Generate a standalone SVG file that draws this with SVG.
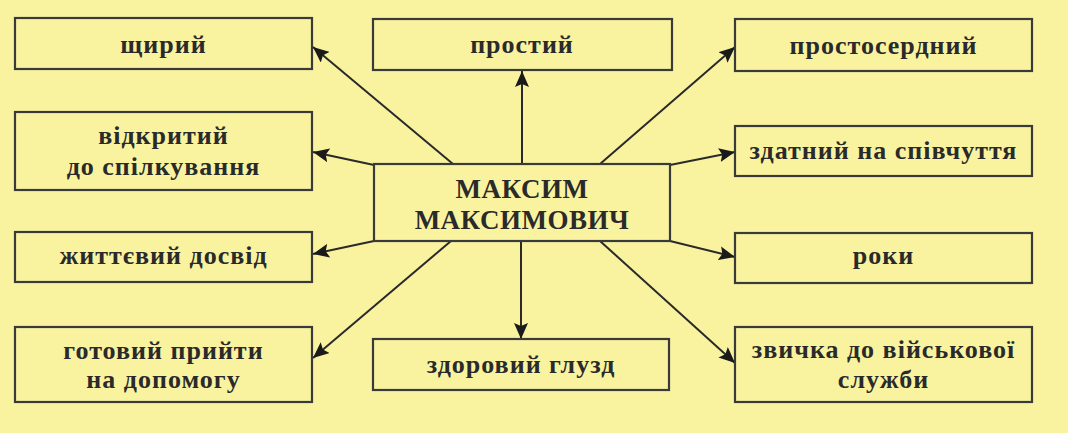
<svg xmlns="http://www.w3.org/2000/svg" width="1068" height="433" viewBox="0 0 1068 433">
<style>
.box{fill:#f9f3a0;stroke:#3a3a3a;stroke-width:2.2}
.t{font-weight:bold;font-size:26px;letter-spacing:1px;fill:#2a2a2a;text-anchor:middle}
.c{font-size:27px;letter-spacing:0.5px}
.ln{stroke:#2a2a2a;stroke-width:2;fill:none;marker-end:url(#ah)}
</style>
<defs>
<marker id="ah" markerUnits="userSpaceOnUse" markerWidth="18" markerHeight="14" refX="16" refY="7" orient="auto">
<path d="M0,0 L16,7 L0,14 L3,7 Z" fill="#1a1a1a"/>
</marker>
</defs>
<rect width="1068" height="433" fill="#f9f3a0"/>
<g id="connectors">
<line class="ln" x1="453" y1="164" x2="313" y2="47"/>
<line class="ln" x1="522" y1="164" x2="522" y2="71"/>
<line class="ln" x1="600" y1="164" x2="735" y2="47"/>
<line class="ln" x1="374" y1="165" x2="313" y2="152"/>
<line class="ln" x1="670" y1="165" x2="735" y2="152"/>
<line class="ln" x1="374" y1="241" x2="313" y2="254"/>
<line class="ln" x1="670" y1="241" x2="735" y2="257"/>
<line class="ln" x1="451" y1="241" x2="313" y2="358"/>
<line class="ln" x1="521" y1="241" x2="521" y2="339"/>
<line class="ln" x1="600" y1="241" x2="735" y2="363"/>
</g>
<g font-family="Liberation Serif, serif">
<g id="n-shchyryi"><rect class="box" x="15" y="18" width="297" height="51"/><text class="t" x="163.5" y="53">щирий</text></g>
<g id="n-prostyi"><rect class="box" x="373" y="19" width="299" height="51"/><text class="t" x="522" y="53">простий</text></g>
<g id="n-prostoserdnyi"><rect class="box" x="735" y="19" width="297" height="52"/><text class="t" x="883.5" y="54">простосердний</text></g>
<g id="n-vidkrytyi"><rect class="box" x="15" y="112" width="297" height="78"/><text class="t" x="163.5" y="144">відкритий</text><text class="t" x="163.5" y="175">до спілкування</text></g>
<g id="n-zdatnyi"><rect class="box" x="735" y="126" width="297" height="50"/><text class="t" x="883.5" y="159">здатний на співчуття</text></g>
<g id="n-center"><rect class="box" x="374" y="164" width="296" height="77"/><text class="t c" x="522" y="198">МАКСИМ</text><text class="t c" x="522" y="229">МАКСИМОВИЧ</text></g>
<g id="n-zhyttievyi"><rect class="box" x="15" y="232" width="297" height="50"/><text class="t" x="163.5" y="264">життєвий досвід</text></g>
<g id="n-roky"><rect class="box" x="735" y="233" width="297" height="50"/><text class="t" x="883.5" y="264">роки</text></g>
<g id="n-hotovyi"><rect class="box" x="15" y="327" width="297" height="75"/><text class="t" x="163.5" y="359">готовий прийти</text><text class="t" x="163.5" y="388">на допомогу</text></g>
<g id="n-zdorovyi"><rect class="box" x="373" y="339" width="296" height="51"/><text class="t" x="521" y="373">здоровий глузд</text></g>
<g id="n-zvychka"><rect class="box" x="735" y="327" width="297" height="75"/><text class="t" x="883.5" y="358">звичка до військової</text><text class="t" x="883.5" y="388">служби</text></g>
</g>
</svg>
